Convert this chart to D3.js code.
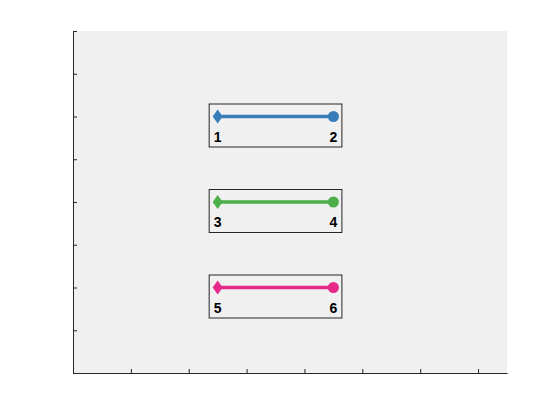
<!DOCTYPE html>
<html><head><meta charset="utf-8">
<script src="https://cdn.jsdelivr.net/npm/d3@7"></script>
<style>body{margin:0;background:#fff}svg{display:block}</style>
</head><body>
<script>
const seriesNames = ["A", "B", "C"];
const xStart = [2.5, 2.5, 2.5];
const xEnd = [4.5, 4.5, 4.5];
const yValues = [6, 4, 2];
const startLabels = ["1", "3", "5"];
const endLabels = ["2", "4", "6"];
const colors = ["#377eb8", "#4daf4a", "#e7298a"];
const xTicks = [1, 2, 3, 4, 5, 6, 7];
const yTicks = [0, 1, 2, 3, 4, 5, 6, 7, 8];

const W = 560, H = 420;
const m = {left: 73, right: 53, top: 31, bottom: 47};
const svg = d3.select("body").append("svg").attr("width", W).attr("height", H);
const x = d3.scaleLinear().domain([0, 7.5]).range([m.left, W - m.right]);
const y = d3.scaleLinear().domain([0, 8]).range([H - m.bottom, m.top]);

svg.append("rect").attr("x", m.left).attr("y", m.top)
  .attr("width", W - m.left - m.right).attr("height", H - m.top - m.bottom)
  .attr("fill", "#f0f0f0");

const gx = svg.append("g").attr("transform", `translate(0,${H - m.bottom})`)
  .call(d3.axisBottom(x).tickValues(xTicks).tickSizeInner(-4).tickSizeOuter(0).tickFormat(""));
const gy = svg.append("g").attr("transform", `translate(${m.left},0)`)
  .call(d3.axisLeft(y).tickValues(yTicks).tickSizeInner(-4).tickSizeOuter(0).tickFormat(""));
[gx, gy].forEach(g => {
  g.select(".domain").attr("stroke", "#262626").attr("stroke-width", 1);
  g.selectAll(".tick line").attr("stroke", "#262626");
});

const groups = svg.append("g").selectAll("g").data(seriesNames).join("g");
groups.each(function(name, i) {
  const g = d3.select(this);
  const x0 = x(xStart[i]), x1 = x(xEnd[i]), yy = y(yValues[i]);
  g.append("rect").attr("x", x0 - 8.5).attr("y", yy - 12.5)
    .attr("width", x1 - x0 + 17).attr("height", 43)
    .attr("fill", "none").attr("stroke", "#262626").attr("stroke-width", 1);
  g.append("line").attr("x1", x0).attr("x2", x1).attr("y1", yy).attr("y2", yy)
    .attr("stroke", colors[i]).attr("stroke-width", 3.5);
  g.append("path").attr("d", `M${x0 - 5},${yy} L${x0},${yy - 7} L${x0 + 5},${yy} L${x0},${yy + 7} Z`)
    .attr("fill", colors[i]);
  g.append("circle").attr("cx", x1).attr("cy", yy).attr("r", 5.5).attr("fill", colors[i]);
  g.append("text").attr("x", x0).attr("y", yy + 25).attr("text-anchor", "middle")
    .attr("font-family", "Liberation Sans, Arial, sans-serif").attr("font-weight", "bold")
    .attr("font-size", 14).attr("fill", "#000").text(startLabels[i]);
  g.append("text").attr("x", x1).attr("y", yy + 25).attr("text-anchor", "middle")
    .attr("font-family", "Liberation Sans, Arial, sans-serif").attr("font-weight", "bold")
    .attr("font-size", 14).attr("fill", "#000").text(endLabels[i]);
});
</script>
</body></html>
